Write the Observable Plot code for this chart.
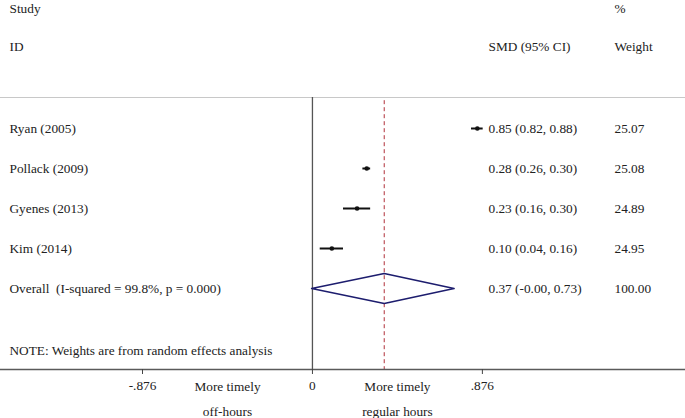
<!DOCTYPE html>
<html>
<head>
<meta charset="utf-8">
<script src="https://cdn.jsdelivr.net/npm/d3@7"></script>
<script src="https://cdn.jsdelivr.net/npm/@observablehq/plot@0.6"></script>
<style>
  html, body { margin: 0; padding: 0; background: #fff; }
  svg { display: block; }
  svg, svg text { font-family: "Liberation Serif", "DejaVu Serif", serif !important; }
</style>
</head>
<body>
<div id="chart"></div>
<script>
// ---- data ----
const studies = ["Ryan (2005)", "Pollack (2009)", "Gyenes (2013)", "Kim (2014)"];
const smd     = [0.85, 0.28, 0.23, 0.10];
const lower   = [0.82, 0.26, 0.16, 0.04];
const upper   = [0.88, 0.30, 0.30, 0.16];
const weights = ["25.07", "25.08", "24.89", "24.95"];
const overallLabel = "Overall  (I-squared = 99.8%, p = 0.000)";
const overallEst = 0.37, overallLo = -0.004, overallHi = 0.73, overallWeight = "100.00";
const tickValues = [-0.876, 0, 0.876];
const tickLabels = ["-.876", "0", ".876"];
const leftLabel = "More timely\noff-hours";
const rightLabel = "More timely\nregular hours";
const noteText = "NOTE: Weights are from random effects analysis";

// ---- layout ----
const W = 685, H = 418;
const xDomain = [-1.608, 1.923];
const px = d3.scaleLinear().domain([0, W]).range(xDomain); // pixel -> data, for text columns
const colStudy = px(9), colCI = px(488), colW = px(614);
const FS = 13.3;

// ---- derived tables ----
const fmt = v => v.toFixed(2);
const rows = studies.map((s, i) => ({
  study: s, row: i + 1, est: smd[i], lo: lower[i], hi: upper[i],
  ci: `${fmt(smd[i])} (${fmt(lower[i])}, ${fmt(upper[i])})`, w: weights[i]
}));
const overallRow = studies.length + 1;
const overall = {
  study: overallLabel, row: overallRow, est: overallEst, lo: overallLo, hi: overallHi,
  ci: `${fmt(overallEst)} (${fmt(overallLo)}, ${fmt(overallHi)})`, w: overallWeight
};
const allRows = [...rows, overall];
const dh = 0.375;
const diamond = [
  {x: overall.lo, y: overall.row}, {x: overall.est, y: overall.row - dh},
  {x: overall.hi, y: overall.row}, {x: overall.est, y: overall.row + dh},
  {x: overall.lo, y: overall.row}
];

const font = "Liberation Serif, serif";
const yTop = -2.2, yBottom = 7.025, yLine = 0.225;
const headers = [
  {t: "Study", x: colStudy, y: -2.0}, {t: "ID", x: colStudy, y: -1.05},
  {t: "SMD (95% CI)", x: colCI, y: -1.05},
  {t: "%", x: colW, y: -2.0}, {t: "Weight", x: colW, y: -1.05}
];

const chart = Plot.plot({
  width: W,
  height: H,
  marginLeft: 0, marginRight: 0, marginTop: 0, marginBottom: 49,
  style: {fontFamily: font, fontSize: FS + "px", color: "#222", background: "#fff"},
  x: {domain: xDomain},
  y: {domain: [yTop, yBottom], range: [0, 369]},
  marks: [
    // header and top rule
    Plot.ruleY([yLine], {stroke: "#c8c8c8", strokeWidth: 1}),
    Plot.text(headers, {text: "t", x: "x", y: "y", textAnchor: "start", fill: "#222", fontSize: FS}),
    // reference lines
    Plot.ruleX([0], {y1: yLine, y2: yBottom, stroke: "#555", strokeWidth: 1.3}),
    Plot.ruleX([overallEst], {y1: yLine + 0.08, y2: yBottom, stroke: "#b0303a", strokeWidth: 1, strokeDasharray: "4,3"}),
    // CIs and points
    Plot.ruleY(rows, {y: "row", x1: "lo", x2: "hi", stroke: "#111", strokeWidth: 2}),
    Plot.dot(rows, {x: "est", y: "row", r: 2.3, fill: "#111", stroke: "none"}),
    // diamond
    Plot.line(diamond, {x: "x", y: "y", stroke: "#1d1d6e", strokeWidth: 1.6}),
    // text columns
    Plot.text(allRows, {text: "study", x: () => colStudy, y: "row", textAnchor: "start", fill: "#222", fontSize: FS}),
    Plot.text(allRows, {text: "ci", x: () => colCI, y: "row", textAnchor: "start", fill: "#222", fontSize: FS}),
    Plot.text(allRows, {text: "w", x: () => colW, y: "row", textAnchor: "start", fill: "#222", fontSize: FS}),
    Plot.text([noteText], {text: d => d, x: () => colStudy, y: () => 6.55, textAnchor: "start", fill: "#222", fontSize: FS}),
    // axis
    Plot.ruleY([yBottom], {stroke: "#5a5a5a", strokeWidth: 1.6}),
    Plot.axisX({ticks: tickValues, tickFormat: d => tickLabels[tickValues.indexOf(d)], tickSize: 5, tickPadding: 6, fontSize: FS, fill: "#222", stroke: "#444"}),
    Plot.text([{t: leftLabel, x: tickValues[0] / 2}, {t: rightLabel, x: tickValues[2] / 2}],
      {text: "t", x: "x", y: () => 7.375, lineAnchor: "middle", lineHeight: 1.88, dy: 12, fill: "#222", fontSize: FS, clip: false})
  ]
});
document.getElementById("chart").appendChild(chart);
</script>
</body>
</html>
